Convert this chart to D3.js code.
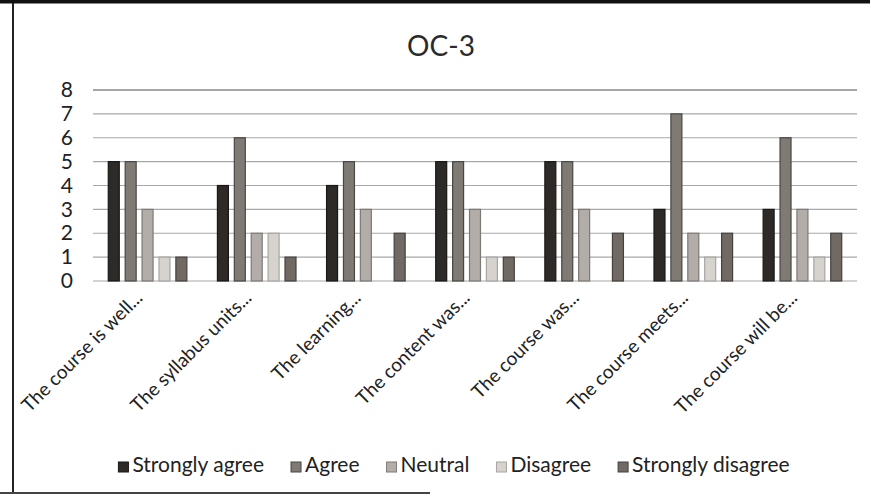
<!DOCTYPE html>
<html>
<head>
<meta charset="utf-8">
<script src="https://cdn.jsdelivr.net/npm/d3@7"></script>
<style>
  html, body { margin: 0; padding: 0; background: #fff; }
  svg { display: block; font-family: Lato, "Open Sans", sans-serif; }
</style>
</head>
<body>
<svg id="chart" width="870" height="497"></svg>
<script>
const categories = [
  "The course is well...",
  "The syllabus units...",
  "The learning...",
  "The content was...",
  "The course was...",
  "The course meets...",
  "The course will be..."
];
const seriesNames = ["Strongly agree", "Agree", "Neutral", "Disagree", "Strongly disagree"];
const stronglyAgree    = [5, 4, 4, 5, 5, 3, 3];
const agree            = [5, 6, 5, 5, 5, 7, 6];
const neutral          = [3, 2, 3, 3, 3, 2, 3];
const disagree         = [1, 2, 0, 1, 0, 1, 1];
const stronglyDisagree = [1, 1, 2, 1, 2, 2, 2];
const yTicks = [0, 1, 2, 3, 4, 5, 6, 7, 8];
const title = "OC-3";

const seriesValues = [stronglyAgree, agree, neutral, disagree, stronglyDisagree];
const fills   = ["#2e2a27", "#7f7a74", "#b2ada8", "#d6d2ce", "#716a64"];
const strokes = ["#1a1816", "#4a4743", "#7d7975", "#a9a5a1", "#45403c"];

const svg = d3.select("#chart");

// frame
svg.append("line").attr("x1", 13).attr("x2", 13).attr("y1", 0).attr("y2", 493)
  .attr("stroke", "#222").attr("stroke-width", 2);
svg.append("line").attr("x1", 0).attr("x2", 870).attr("y1", 1.5).attr("y2", 1.5)
  .attr("stroke", "#111").attr("stroke-width", 4);
svg.append("line").attr("x1", 0).attr("x2", 430).attr("y1", 493).attr("y2", 493)
  .attr("stroke", "#444").attr("stroke-width", 2);

const plot = { left: 93, right: 857, top: 90, bottom: 281 };

const x0 = d3.scaleBand().domain(categories).range([plot.left, plot.right])
  .paddingInner(0.28).paddingOuter(0.14);
const x1 = d3.scaleBand().domain(seriesNames).range([0, x0.bandwidth()])
  .paddingInner(0.35);
const y = d3.scaleLinear().domain([0, 8]).range([plot.bottom, plot.top]);

// grid
svg.append("g").selectAll("line").data(yTicks).join("line")
  .attr("x1", plot.left).attr("x2", plot.right)
  .attr("y1", d => y(d)).attr("y2", d => y(d))
  .attr("stroke", d => d === 8 ? "#8a8a8a" : "#a8a8a8")
  .attr("stroke-width", d => d === 8 ? 1.6 : 1.2);

// y tick labels
const yAxis = d3.axisLeft(y).tickValues(yTicks).tickSize(0).tickPadding(0);
const yg = svg.append("g").attr("transform", `translate(73,0)`).call(yAxis);
yg.select(".domain").remove();
yg.selectAll("text").attr("font-size", 21).attr("fill", "#222")
  .attr("font-family", "Lato, 'Open Sans', sans-serif");

// bars
const groups = svg.append("g").selectAll("g").data(categories).join("g")
  .attr("transform", d => `translate(${x0(d)},0)`);
groups.selectAll("rect")
  .data((c, ci) => seriesNames.map((s, si) => ({ s, si, v: seriesValues[si][ci] })))
  .join("rect")
  .filter(d => d.v > 0)
  .attr("x", d => x1(d.s))
  .attr("width", x1.bandwidth())
  .attr("y", d => y(d.v))
  .attr("height", d => y(0) - y(d.v))
  .attr("fill", d => fills[d.si])
  .attr("stroke", d => strokes[d.si])
  .attr("stroke-width", 1.2);

// x labels
const xAxis = d3.axisBottom(x0).tickSize(0).tickPadding(0);
const xg = svg.append("g").attr("transform", `translate(0,${plot.bottom})`).call(xAxis);
xg.select(".domain").remove();
xg.selectAll("text")
  .attr("font-size", 19).attr("fill", "#222")
  .attr("font-family", "Lato, 'Open Sans', sans-serif")
  .attr("text-anchor", "end")
  .attr("dy", null).attr("y", 0)
  .attr("transform", "translate(-4,18) rotate(-45)");

// title
svg.append("text").attr("x", 441).attr("y", 56).attr("text-anchor", "middle")
  .attr("font-size", 28).attr("fill", "#2a2a2a").text(title);

// legend
const legend = svg.append("g").attr("transform", "translate(0,472)");
const items = legend.selectAll("g").data(seriesNames).join("g");
items.append("rect").attr("width", 10).attr("height", 10).attr("y", -10)
  .attr("fill", (d, i) => fills[i]).attr("stroke", (d, i) => strokes[i]);
items.append("text").attr("x", 14).attr("y", 0)
  .attr("font-size", 21).attr("fill", "#222").text(d => d);
let cx = 0;
const widths = [];
items.each(function () { widths.push(this.getBBox().width); });
const gap = 27;
const total = d3.sum(widths) + gap * (widths.length - 1);
cx = 454 - total / 2;
items.attr("transform", (d, i) => {
  const t = `translate(${cx},0)`;
  cx += widths[i] + gap;
  return t;
});
</script>
</body>
</html>
